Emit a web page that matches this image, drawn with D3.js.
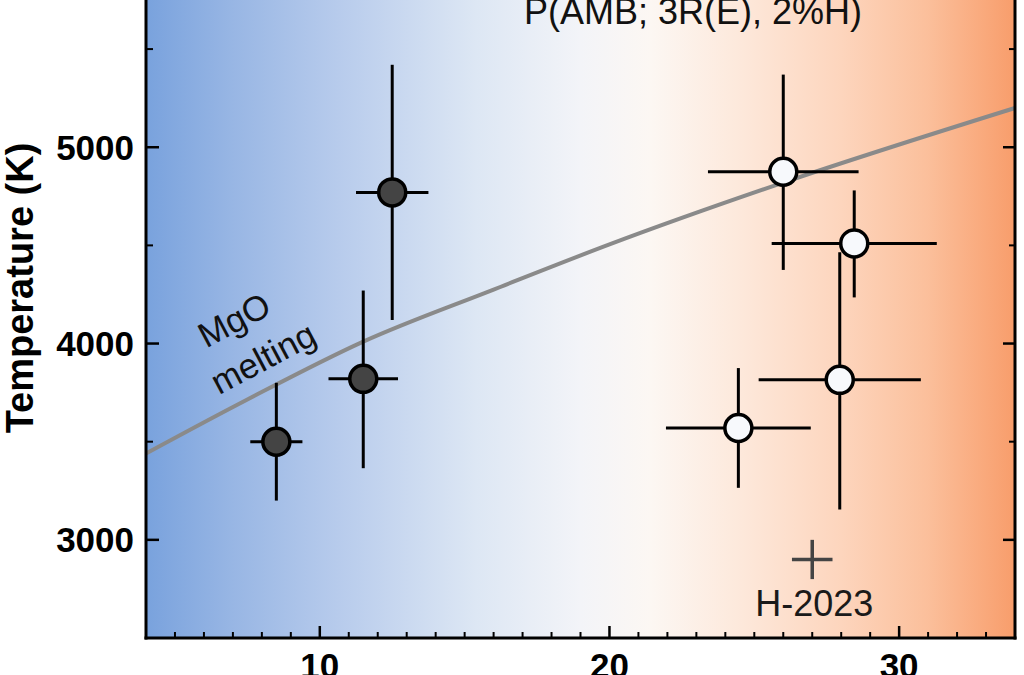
<!DOCTYPE html>
<html>
<head>
<meta charset="utf-8">
<script src="https://cdn.jsdelivr.net/npm/d3@7"></script>
<style>
  html, body { margin: 0; padding: 0; background: #fff; }
  svg { display: block; }
  text { font-family: "Liberation Sans", Arial, sans-serif; }
</style>
</head>
<body>
<svg id="chart" width="1024" height="675"></svg>
<script>
// ---------------- data ----------------
const titleText = "P(AMB; 3R(E), 2%H)";
const yTitle = "Temperature (K)";
const xTickValues = [10, 20, 30];
const yTickValues = [3000, 4000, 5000];

// filled (dark) points
const darkP    = [8.5, 11.5, 12.5];
const darkT    = [3500, 3820, 4770];
const darkPErr = [0.9, 1.2, 1.25];
const darkTErrUp = [300, 450, 650];
const darkTErrDn = [300, 455, 650];

// open (white) points
const openP    = [26.0, 28.45, 27.95, 24.45];
const openT    = [4875, 4510, 3815, 3570];
const openPErr = [2.6, 2.85, 2.8, 2.5];
const openTErrUp = [495, 270, 650, 305];
const openTErrDn = [500, 275, 660, 305];

// H-2023 reference cross
const refP = [27.0];
const refT = [2900];
const refPErr = [0.7];
const refTErr = [100];
const refLabel = "H-2023";

// MgO melting curve
const meltP = [4, 7.5, 11.5, 16, 20, 26, 34];
const meltT = [3440, 3715, 4010, 4275, 4505, 4820, 5200];

// ---------------- layout ----------------
const svg = d3.select("#chart");
const mLeft = 146, mRight = 1015, mTop = 0, mBottom = 638;
const x = d3.scaleLinear().domain([4, 34]).range([mLeft, mRight]);
const y = d3.scaleLinear().domain([2500, 5750]).range([mBottom, mTop]);

// background gradient
const defs = svg.append("defs");
const grad = defs.append("linearGradient").attr("id", "bg").attr("x1", "0%").attr("x2", "100%").attr("y1", "0%").attr("y2", "0%");
[
  ["0%", "#79a2dd"], ["10%", "#98b6e4"], ["22%", "#b7cbec"], ["38%", "#dde7f4"],
  ["50%", "#f3f4f8"], ["58%", "#fcf7f3"], ["68%", "#fde9dc"], ["80%", "#fdd5bd"],
  ["90%", "#fbbf9b"], ["100%", "#f89d6b"]
].forEach(s => grad.append("stop").attr("offset", s[0]).attr("stop-color", s[1]));

svg.append("rect").attr("x", mLeft).attr("y", -10).attr("width", mRight - mLeft).attr("height", mBottom + 10)
  .attr("fill", "url(#bg)");

const plot = svg.append("g");

// melting curve
const meltData = meltP.map((p, i) => ({p, t: meltT[i]}));
plot.append("path").datum(meltData)
  .attr("d", d3.line().x(d => x(d.p)).y(d => y(d.t)).curve(d3.curveMonotoneX))
  .attr("fill", "none").attr("stroke", "#8a8a8a").attr("stroke-width", 4);

// melting label
const lbl = plot.append("g").attr("font-size", 35).attr("fill", "#111");
lbl.append("text").attr("transform", `translate(234,320) rotate(-28)`).attr("text-anchor", "middle").attr("dy", "0.35em").text("MgO");
lbl.append("text").attr("transform", `translate(263,358) rotate(-28)`).attr("text-anchor", "middle").attr("dy", "0.35em").text("melting");

// error bars + points
function drawSeries(P, T, PE, TU, TD) {
  const data = P.map((p, i) => ({p, t: T[i], pe: PE[i], tu: TU[i], td: TD[i]}));
  const g = plot.append("g");
  g.selectAll(".h").data(data).join("line")
    .attr("x1", d => x(d.p - d.pe)).attr("x2", d => x(d.p + d.pe))
    .attr("y1", d => y(d.t)).attr("y2", d => y(d.t))
    .attr("stroke", "#000").attr("stroke-width", 3);
  g.selectAll(".v").data(data).join("line")
    .attr("x1", d => x(d.p)).attr("x2", d => x(d.p))
    .attr("y1", d => y(d.t + d.tu)).attr("y2", d => y(d.t - d.td))
    .attr("stroke", "#000").attr("stroke-width", 3);
  return {g, data};
}
const darkS = drawSeries(darkP, darkT, darkPErr, darkTErrUp, darkTErrDn);
const openS = drawSeries(openP, openT, openPErr, openTErrUp, openTErrDn);
darkS.g.selectAll("circle").data(darkS.data).join("circle")
  .attr("cx", d => x(d.p)).attr("cy", d => y(d.t)).attr("r", 13.5)
  .attr("fill", "#444").attr("stroke", "#000").attr("stroke-width", 3.5);
openS.g.selectAll("circle").data(openS.data).join("circle")
  .attr("cx", d => x(d.p)).attr("cy", d => y(d.t)).attr("r", 13.5)
  .attr("fill", "#f7f9fc").attr("stroke", "#000").attr("stroke-width", 3.5);

// H-2023 cross
const refData = refP.map((p, i) => ({p, t: refT[i], pe: refPErr[i], te: refTErr[i]}));
const rg = plot.append("g");
rg.selectAll(".rh").data(refData).join("line")
  .attr("x1", d => x(d.p - d.pe)).attr("x2", d => x(d.p + d.pe))
  .attr("y1", d => y(d.t)).attr("y2", d => y(d.t))
  .attr("stroke", "#444").attr("stroke-width", 3.5);
rg.selectAll(".rv").data(refData).join("line")
  .attr("x1", d => x(d.p)).attr("x2", d => x(d.p))
  .attr("y1", d => y(d.t + d.te)).attr("y2", d => y(d.t - d.te))
  .attr("stroke", "#444").attr("stroke-width", 3.5);
rg.append("text").attr("x", x(refP[0]) + 2).attr("y", 616).attr("text-anchor", "middle")
  .attr("font-size", 36).attr("fill", "#1a1a1a").text(refLabel);

// title
svg.append("text").attr("x", 693).attr("y", 24).attr("text-anchor", "middle")
  .attr("font-size", 36).attr("fill", "#111").text(titleText);

// ---------------- axes ----------------
const axisG = svg.append("g");
const xMinor = d3.range(5, 34, 1).filter(v => !xTickValues.includes(v));
const yMinor = [3500, 4500, 5500];

// bottom axis
axisG.selectAll(".xmaj").data(xTickValues).join("line")
  .attr("x1", d => x(d)).attr("x2", d => x(d)).attr("y1", mBottom).attr("y2", mBottom - 12)
  .attr("stroke", "#000").attr("stroke-width", 2.5);
axisG.selectAll(".xmin").data(xMinor).join("line")
  .attr("x1", d => x(d)).attr("x2", d => x(d)).attr("y1", mBottom).attr("y2", mBottom - 6)
  .attr("stroke", "#000").attr("stroke-width", 2);
axisG.selectAll(".xlab").data(xTickValues).join("text")
  .attr("x", d => x(d)).attr("y", 678).attr("text-anchor", "middle")
  .attr("font-size", 35).attr("font-weight", "bold").attr("fill", "#000").text(d => d);

// left axis
axisG.selectAll(".ymaj").data(yTickValues).join("line")
  .attr("x1", mLeft).attr("x2", mLeft + 13).attr("y1", d => y(d)).attr("y2", d => y(d))
  .attr("stroke", "#000").attr("stroke-width", 2.5);
axisG.selectAll(".ymin").data(yMinor).join("line")
  .attr("x1", mLeft).attr("x2", mLeft + 7).attr("y1", d => y(d)).attr("y2", d => y(d))
  .attr("stroke", "#000").attr("stroke-width", 2);
axisG.selectAll(".ylab").data(yTickValues).join("text")
  .attr("x", 134).attr("y", d => y(d)).attr("dy", "0.36em").attr("text-anchor", "end")
  .attr("font-size", 35).attr("font-weight", "bold").attr("fill", "#000").text(d => d);

// right axis ticks
axisG.selectAll(".rmaj").data(yTickValues).join("line")
  .attr("x1", mRight).attr("x2", mRight - 12).attr("y1", d => y(d)).attr("y2", d => y(d))
  .attr("stroke", "#000").attr("stroke-width", 2.5);
axisG.selectAll(".rmin").data(yMinor).join("line")
  .attr("x1", mRight).attr("x2", mRight - 6).attr("y1", d => y(d)).attr("y2", d => y(d))
  .attr("stroke", "#000").attr("stroke-width", 2);

// frame lines
axisG.append("line").attr("x1", mLeft).attr("x2", mLeft).attr("y1", -5).attr("y2", mBottom + 1.5)
  .attr("stroke", "#000").attr("stroke-width", 3);
axisG.append("line").attr("x1", mRight).attr("x2", mRight).attr("y1", -5).attr("y2", mBottom + 1.5)
  .attr("stroke", "#000").attr("stroke-width", 3);
axisG.append("line").attr("x1", mLeft - 1.5).attr("x2", mRight + 1.5).attr("y1", mBottom).attr("y2", mBottom)
  .attr("stroke", "#000").attr("stroke-width", 3);

// y title
svg.append("text").attr("transform", `translate(33,288) rotate(-90)`).attr("text-anchor", "middle")
  .attr("font-size", 38).attr("font-weight", "bold").attr("fill", "#000").text(yTitle);
</script>
</body>
</html>
